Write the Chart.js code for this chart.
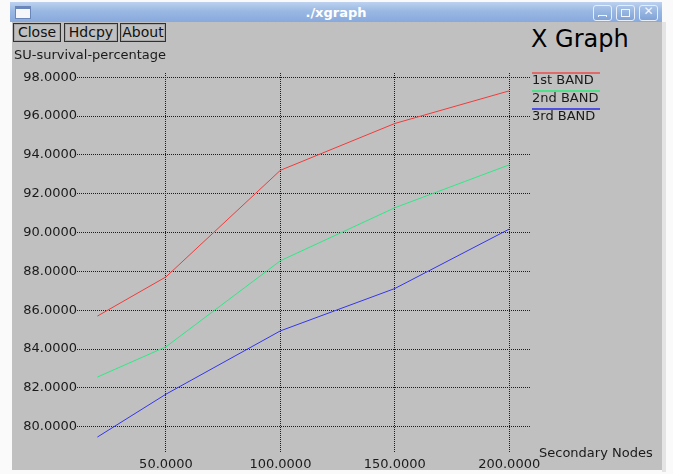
<!DOCTYPE html>
<html>
<head>
<meta charset="utf-8">
<script src="https://cdn.jsdelivr.net/npm/chart.js@4.4.1/dist/chart.umd.min.js"></script>
<style>
  html, body { margin: 0; padding: 0; }
  body { width: 673px; height: 474px; background: #fafafa; position: relative; overflow: hidden; font-family: "DejaVu Sans", sans-serif; }
  #win { position: absolute; left: 12px; top: 22px; width: 650px; height: 448px; background: #c0c0c0; }
  #edge { position: absolute; left: 662px; top: 22px; width: 4px; height: 450px; background: #e4e4e4; }
  #titlebar { position: absolute; left: 10px; top: 2px; width: 652px; height: 20px;
    background: linear-gradient(#bcd2ef, #9ab8e3 45%, #88a9dc); }
  #titletext { position: absolute; left: 0; top: 3px; width: 652px; text-align: center; color: #fff; font-weight: bold; font-size: 13px; }
  #icon { position: absolute; left: 5px; top: 4px; width: 14px; height: 9px; background: #f4f6fa; border: 1px solid #6a86b8; border-top-width: 3px; }
  .wb { position: absolute; top: 3px; width: 17px; height: 14px; border: 1px solid #e8eef8; border-radius: 3px; background: linear-gradient(#a9c3e8, #7fa2d6); }
  .g { position: absolute; border: 1px solid #f2f5fb; }
  .btn { position: absolute; top: 23px; height: 17px; border: 1px solid #303030; box-shadow: inset 0 0 0 1px #a8a8a8; font-size: 14px; line-height: 17px; color: #111; text-align: center; }
  #xg { position: absolute; left: 531px; top: 25px; font-size: 24px; color: #000; }
  #c { position: absolute; left: 0; top: 0; }
</style>
</head>
<body>
<div id="win"></div>
<div id="edge"></div>
<div id="titlebar">
  <div id="icon"></div>
  <div id="titletext">./xgraph</div>
  <div class="wb" style="left:583px"><div class="g" style="left:4px; top:9px; width:7px; height:1px; border-width:1px 1px 0 1px;"></div></div>
  <div class="wb" style="left:606px"><div class="g" style="left:4px; top:3px; width:7px; height:6px;"></div></div>
  <div class="wb" style="left:629px"><div style="position:absolute; left:0; top:-2px; width:17px; text-align:center; color:#f2f5fb; font-size:12px; font-weight:bold;">✕</div></div>
</div>
<div class="btn" style="left:13px; width:46px;">Close</div>
<div class="btn" style="left:64px; width:52px;">Hdcpy</div>
<div class="btn" style="left:120px; width:44px;">About</div>
<div id="xg">X Graph</div>
<canvas id="c" width="673" height="474"></canvas>
<script>
// ---- data ----
const xValues = [20, 50, 100, 150, 200];
const band1 = [85.70, 87.72, 93.21, 95.62, 97.30];
const band2 = [82.56, 84.12, 88.55, 91.28, 93.49];
const band3 = [79.47, 81.68, 84.94, 87.12, 90.18];
const seriesNames = ["1st BAND", "2nd BAND", "3rd BAND"];
const xTicks = [50, 100, 150, 200];
const yTicks = [80, 82, 84, 86, 88, 90, 92, 94, 96, 98];
const yTitle = "SU-survival-percentage";
const xTitle = "Secondary Nodes";

const colors = ["#f23a3a", "#2ee886", "#3434ee"];
const legendColors = ["#e06a6a", "#4fe08a", "#5050e0"];
const FONT = "DejaVu Sans";

function toPts(ys) { return xValues.map((x, i) => ({ x: x, y: ys[i] })); }

const extras = {
  id: 'extras',
  afterDraw(chart) {
    const ctx = chart.ctx;
    const ca = chart.chartArea;
    ctx.save();
    ctx.fillStyle = '#1a1a1a';
    ctx.font = '13px "' + FONT + '"';
    ctx.textAlign = 'left';
    ctx.textBaseline = 'alphabetic';
    ctx.fillText(yTitle, 14, 59);
    ctx.fillText(xTitle, 539, 457);
    // legend
    chart.data.datasets.forEach((ds, i) => {
      const y0 = ca.top + 18 * i;
      ctx.strokeStyle = legendColors[i];
      ctx.lineWidth = 2;
      ctx.beginPath();
      ctx.moveTo(532, y0);
      ctx.lineTo(600, y0);
      ctx.stroke();
      ctx.fillStyle = '#1a1a1a';
      ctx.fillText(ds.label, 532, y0 + 11);
    });
    ctx.restore();
  }
};

new Chart(document.getElementById('c'), {
  type: 'line',
  data: {
    datasets: [
      { label: seriesNames[0], data: toPts(band1), borderColor: colors[0] },
      { label: seriesNames[1], data: toPts(band2), borderColor: colors[1] },
      { label: seriesNames[2], data: toPts(band3), borderColor: colors[2] }
    ]
  },
  options: {
    responsive: false,
    animation: false,
    devicePixelRatio: 1,
    events: [],
    elements: {
      line: { borderWidth: 1, tension: 0, fill: false },
      point: { radius: 0 }
    },
    layout: { padding: { left: 0, top: 73, right: 143, bottom: 0 } },
    plugins: { legend: { display: false }, tooltip: { enabled: false }, title: { display: false } },
    scales: {
      x: {
        type: 'linear',
        min: 11.1,
        max: 209.1,
        afterBuildTicks: (s) => { s.ticks = xTicks.map(v => ({ value: v })); },
        afterFit: (s) => { s.height = 21; },
        ticks: {
          callback: (v) => Number(v).toFixed(4),
          font: { family: FONT, size: 13 },
          color: '#1a1a1a',
          padding: 4,
          maxRotation: 0,
          autoSkip: false
        },
        grid: { color: '#1c1c1c', lineWidth: 1, drawTicks: false },
        border: { display: false, dash: [1, 1] }
      },
      y: {
        type: 'linear',
        min: 78.65,
        max: 98.22,
        afterBuildTicks: (s) => { s.ticks = yTicks.map(v => ({ value: v })); },
        afterFit: (s) => { s.width = 77; },
        ticks: {
          callback: (v) => Number(v).toFixed(4),
          font: { family: FONT, size: 13 },
          color: '#1a1a1a',
          padding: 0,
          autoSkip: false
        },
        grid: { color: '#1c1c1c', lineWidth: 1, drawTicks: false },
        border: { display: false, dash: [1, 1] }
      }
    }
  },
  plugins: [extras]
});
</script>
</body>
</html>
